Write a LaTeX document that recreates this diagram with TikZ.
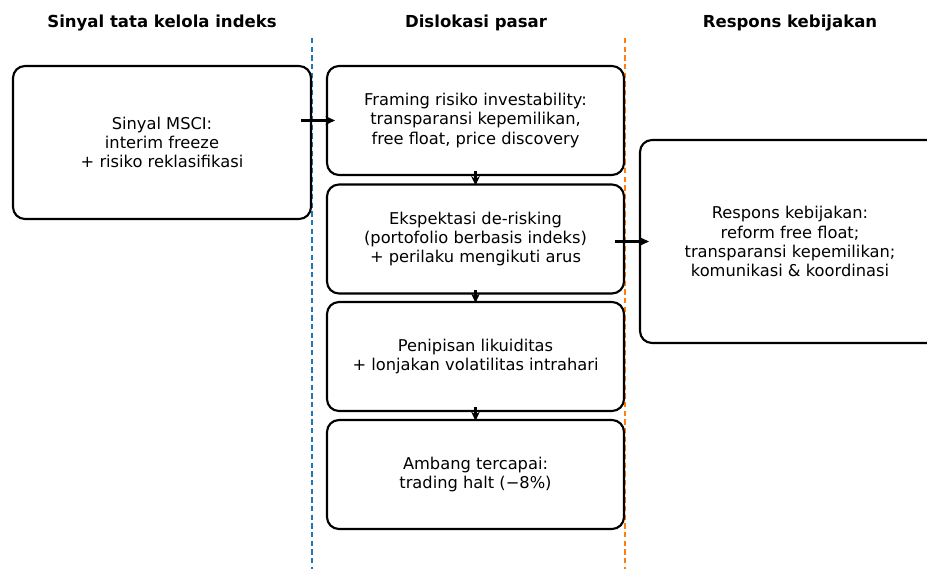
\documentclass[tikz,border=0pt]{standalone}
\usepackage{fontspec}
\setmainfont{DejaVu Sans}
\usetikzlibrary{arrows.meta}
\definecolor{mblue}{HTML}{1F77B4}
\definecolor{morange}{HTML}{FF7F0E}
\begin{document}
\begin{tikzpicture}[x=0.75pt,y=-0.75pt,
  box/.style={draw=black, line width=1.6pt, rounded corners=9pt, fill=white, align=center, inner sep=0pt, font=\fontsize{12.2}{14.3}\selectfont},
  bbox/.style={box, minimum width=222.75pt, minimum height=81.75pt},
  head/.style={font=\fontsize{12.4}{14.5}\selectfont\bfseries},
  arr/.style={-{Stealth[length=7pt,width=6.5pt]}, line width=1.6pt},
  sep/.style={dash pattern=on 4pt off 2.5pt, line width=1.1pt}]
\useasboundingbox (0,0) rectangle (927,568);
\clip (0,0) rectangle (927,568);
\draw[sep, mblue] (312,38) -- (312,570);
\draw[sep, morange] (625,38) -- (625,570);
\node[head] (h1) at (162,23) {Sinyal tata kelola indeks};
\node[head] (h2) at (476,23) {Dislokasi pasar};
\node[head] (h3) at (790,23) {Respons kebijakan};
\node[box, minimum width=223.5pt, minimum height=114.75pt] (A) at (162,142.5) {Sinyal MSCI:\\interim freeze\\+ risiko reklasifikasi};
\node[bbox] (B1) at (475.5,120.5) {Framing risiko investability:\\transparansi kepemilikan,\\free float, price discovery};
\node[bbox] (B2) at (475.5,239) {Ekspektasi de-risking\\(portofolio berbasis indeks)\\+ perilaku mengikuti arus};
\node[bbox] (B3) at (475.5,356.5) {Penipisan likuiditas\\+ lonjakan volatilitas intrahari};
\node[bbox] (B4) at (475.5,474.5) {Ambang tercapai:\\trading halt (−8\%)};
\node[box, minimum width=225pt, minimum height=152.25pt] (C) at (790,241.5) {Respons kebijakan:\\reform free float;\\transparansi kepemilikan;\\komunikasi \& koordinasi};
\draw[arr] ([xshift=-8.25pt]A.east |- B1.center) -- ([xshift=6.75pt]B1.west |- B1.center);
\draw[arr] ([yshift=3.75pt]B1.south) -- ([yshift=-1.5pt]B2.north);
\draw[arr] ([yshift=3.75pt]B2.south) -- ([yshift=-1.5pt]B3.north);
\draw[arr] ([yshift=3.75pt]B3.south) -- ([yshift=-1.5pt]B4.north);
\draw[arr] ([xshift=-7.5pt]B2.east |- C.center) -- ([xshift=7.5pt]C.west |- C.center);
\end{tikzpicture}
\end{document}
